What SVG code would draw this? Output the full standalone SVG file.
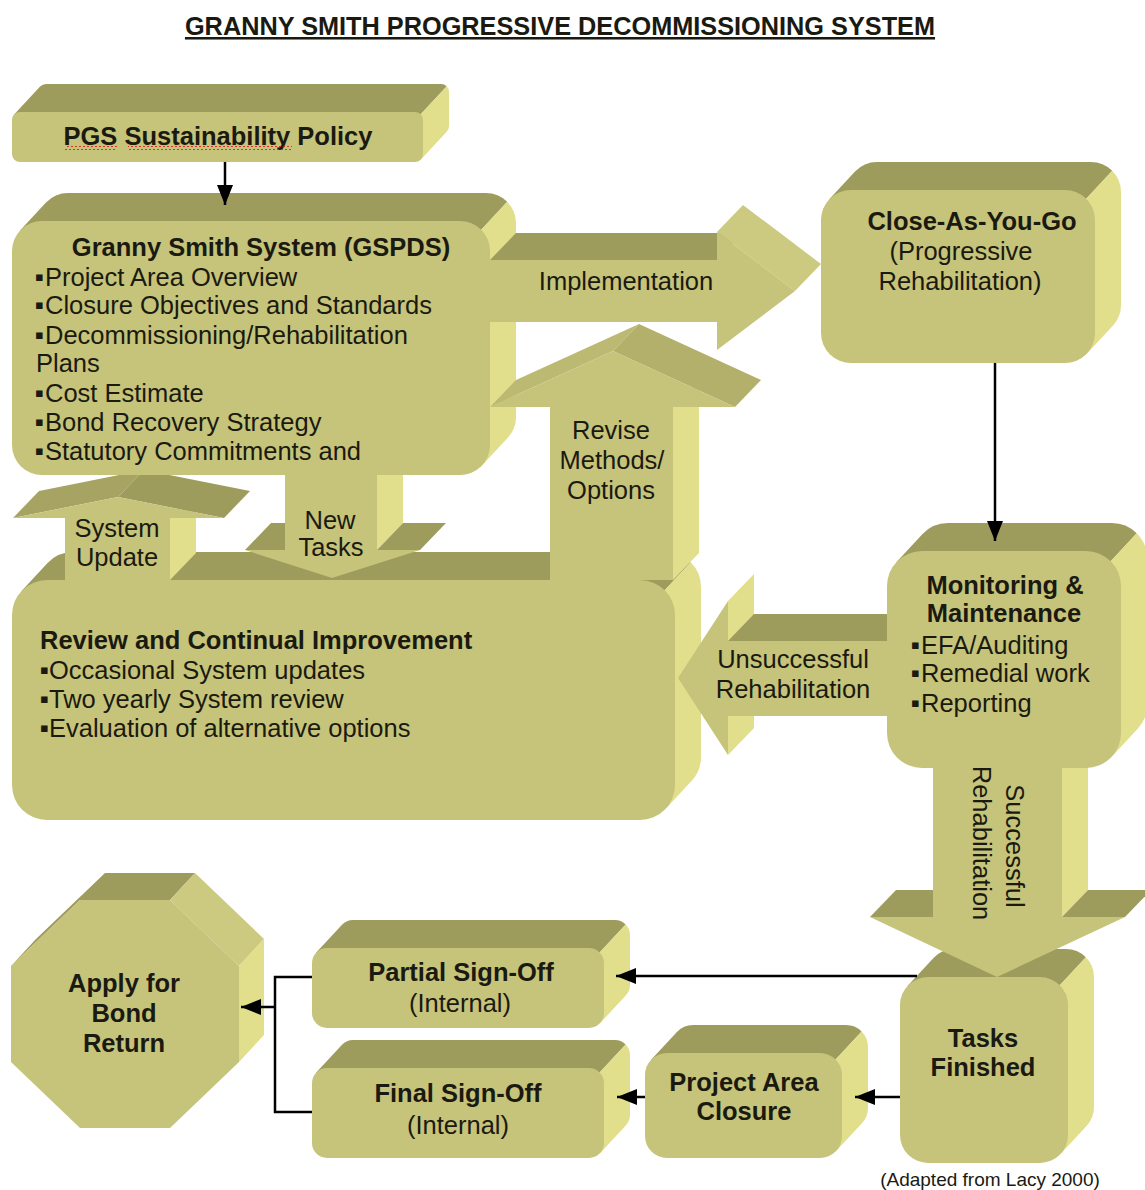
<svg xmlns="http://www.w3.org/2000/svg" width="1145" height="1190" viewBox="0 0 1145 1190">
<defs>
<style>
.f{fill:#c6c37a}
.t{fill:#9e9c5d}
.s{fill:#e1df8b}
.m{fill:#ccc980}
.sl{fill:#bcb972}
.sr{fill:#b3b06b}
text{font-family:"Liberation Sans",Arial,sans-serif;font-size:25.5px;fill:#1a1a10}
.b{font-weight:bold}
.c{text-anchor:middle}
.bl{font-family:"DejaVu Sans",sans-serif;font-size:13px}
.conn line,.conn polyline{stroke:#000;stroke-width:2.5;fill:none}
</style>
<marker id="ah" viewBox="0 0 20 16" refX="20" refY="8" markerWidth="20" markerHeight="16" markerUnits="userSpaceOnUse" orient="auto">
<path d="M0,0 L20,8 L0,16 z" fill="#000"/>
</marker>
<pattern id="sq" width="4" height="4" patternUnits="userSpaceOnUse">
<path d="M0,3 L2,1 L4,3" stroke="#e02020" stroke-width="0.9" fill="none"/>
</pattern>
</defs>
<rect width="1145" height="1190" fill="#fff"/>

<text id="title" class="b c" x="560" y="35" text-decoration="underline" style="font-size:25.3px">GRANNY SMITH PROGRESSIVE DECOMMISSIONING SYSTEM</text>

<g id="pgs">
<path class="t" d="M14.1,114.6 L40.1,86.6 A8,8 0 0 1 46,84 L441,84 A8,8 0 0 1 446.7,86.3 L420.7,114.3 Z"/>
<path class="s" d="M420.7,114.3 L446.7,86.3 A8,8 0 0 1 449,92 L449,126 A8,8 0 0 1 446.9,131.4 L420.9,159.4 Z"/>
<rect class="f" x="12" y="112" width="411" height="50" rx="8"/>
<text class="b c" x="218" y="145">PGS Sustainability Policy</text>
<rect x="65" y="146" width="52" height="4" fill="url(#sq)"/>
<rect x="128" y="146" width="164" height="4" fill="url(#sq)"/>
</g>

<g id="review">
<path class="t" d="M21.3,591.2 L47.3,563.2 A35,35 0 0 1 73,552 L666,552 A35,35 0 0 1 690.7,562.3 L664.7,590.3 Z"/>
<path class="s" d="M664.7,590.3 L690.7,562.3 A35,35 0 0 1 701,587 L701,757 A35,35 0 0 1 691.7,780.8 L665.7,808.8 Z"/>
<rect class="f" x="12" y="580" width="663" height="240" rx="35"/>
<text class="b" x="40" y="649">Review and Continual Improvement</text>
<text x="40" y="679"><tspan class="bl" dy="-5">▪</tspan><tspan x="49" dy="5">Occasional System updates</tspan></text>
<text x="40" y="708"><tspan class="bl" dy="-5">▪</tspan><tspan x="49" dy="5">Two yearly System review</tspan></text>
<text x="40" y="737"><tspan class="bl" dy="-5">▪</tspan><tspan x="49" dy="5">Evaluation of alternative options</tspan></text>
</g>

<g id="system-update">
<polygon class="s" points="170,518 196,491 196,553 170,580"/>
<polygon fill="#a6a363" points="13,518 39,491 144,470 118,497"/>
<polygon class="t" points="118,497 144,470 250,491 224,518"/>
<polygon class="f" points="65,580 65,518 13,518 118,497 224,518 170,518 170,580"/>
<text class="c" x="117" y="537">System</text>
<text class="c" x="117" y="566">Update</text>
</g>

<g id="new-tasks">
<polygon class="s" points="377,470 403,443 403,523 377,550"/>
<polygon class="t" points="245,550 271,523 311,523 285,550"/>
<polygon class="t" points="377,550 403,523 446,523 420,550"/>
<polygon class="f" points="285,470 377,470 377,550 420,550 332,578 245,550 285,550"/>
<text class="c" x="330" y="529">New</text>
<text class="c" x="331" y="556">Tasks</text>
</g>

<g id="gspds">
<path class="t" d="M20,230.6 L46,202.6 A30,30 0 0 1 68,193 L486,193 A30,30 0 0 1 507.2,201.8 L481.2,229.8 Z"/>
<path class="s" d="M481.2,229.8 L507.2,201.8 A30,30 0 0 1 516,223 L516,417 A30,30 0 0 1 508,437.4 L482,465.4 Z"/>
<rect class="f" x="12" y="221" width="478" height="254" rx="30"/>
<text class="b c" x="261" y="256">Granny Smith System (GSPDS)</text>
<text x="35" y="286"><tspan class="bl" dy="-5">▪</tspan><tspan x="45" dy="5">Project Area Overview</tspan></text>
<text x="35" y="314"><tspan class="bl" dy="-5">▪</tspan><tspan x="45" dy="5">Closure Objectives and Standards</tspan></text>
<text x="35" y="344"><tspan class="bl" dy="-5">▪</tspan><tspan x="45" dy="5">Decommissioning/Rehabilitation</tspan></text>
<text x="36" y="372">Plans</text>
<text x="35" y="402"><tspan class="bl" dy="-5">▪</tspan><tspan x="45" dy="5">Cost Estimate</tspan></text>
<text x="35" y="431"><tspan class="bl" dy="-5">▪</tspan><tspan x="45" dy="5">Bond Recovery Strategy</tspan></text>
<text x="35" y="460"><tspan class="bl" dy="-5">▪</tspan><tspan x="45" dy="5">Statutory Commitments and</tspan></text>
</g>

<g id="revise">
<polygon class="s" points="673,407 699,380 699,553 673,580"/>
<polygon class="sl" points="490,407 516,380 639,324 613,351"/>
<polygon class="sr" points="613,351 639,324 761,380 735,407"/>
<polygon class="f" points="550,580 550,407 490,407 613,351 735,407 673,407 673,580"/>
<text class="c" x="611" y="439">Revise</text>
<text class="c" x="612" y="469">Methods/</text>
<text class="c" x="611" y="499">Options</text>
</g>

<g id="implementation">
<polygon class="t" points="490,260 516,233 743,233 717,260"/>
<polygon class="m" points="717,232 743,205 821,264 795,291"/>
<polygon class="f" points="490,260 717,260 717,232 795,291 717,350 717,322 490,322"/>
<text class="c" x="626" y="290">Implementation</text>
</g>

<g id="close">
<path class="t" d="M829,199.6 L855,171.6 A30,30 0 0 1 877,162 L1091,162 A30,30 0 0 1 1112.2,170.8 L1086.2,198.8 Z"/>
<path class="s" d="M1086.2,198.8 L1112.2,170.8 A30,30 0 0 1 1121,192 L1121,305 A30,30 0 0 1 1113,325.4 L1087,353.4 Z"/>
<rect class="f" x="821" y="190" width="274" height="173" rx="30"/>
<text class="b c" x="972" y="230">Close-As-You-Go</text>
<text class="c" x="961" y="260">(Progressive</text>
<text class="c" x="960" y="290">Rehabilitation)</text>
</g>

<g id="unsuccessful">
<polygon class="s" points="728,601 754,574 754,728 728,755"/>
<polygon class="t" points="728,641 754,614 913,614 887,641"/>
<polygon class="f" points="887,641 728,641 728,601 678,678 728,755 728,716 887,716"/>
<text class="c" x="793" y="668">Unsuccessful</text>
<text class="c" x="793" y="698">Rehabilitation</text>
</g>

<g id="tasks">
<path class="t" d="M907.5,986 L933.5,958 A28,28 0 0 1 954,949 L1066,949 A28,28 0 0 1 1085.8,957.2 L1059.8,985.2 Z"/>
<path class="s" d="M1059.8,985.2 L1085.8,957.2 A28,28 0 0 1 1094,977 L1094,1107 A28,28 0 0 1 1086.5,1126 L1060.5,1154 Z"/>
<rect class="f" x="900" y="977" width="168" height="186" rx="28"/>
<text class="b c" x="983" y="1047">Tasks</text>
<text class="b c" x="983" y="1076">Finished</text>
</g>

<g id="successful">
<polygon class="s" points="1062,740 1088,713 1088,890 1062,917"/>
<polygon class="t" points="870,917 896,890 959,890 933,917"/>
<polygon class="t" points="1062,917 1088,890 1151,890 1125,917"/>
<polygon class="f" points="933,740 1062,740 1062,917 1125,917 997,977 870,917 933,917"/>
<text transform="translate(1006,846) rotate(90)" class="c">Successful</text>
<text transform="translate(973,843) rotate(90)" class="c">Rehabilitation</text>
</g>

<g id="monitoring">
<path class="t" d="M896.3,562.2 L922.3,534.2 A35,35 0 0 1 948,523 L1112,523 A35,35 0 0 1 1136.7,533.3 L1110.7,561.3 Z"/>
<path class="s" d="M1110.7,561.3 L1136.7,533.3 A35,35 0 0 1 1147,558 L1147,705 A35,35 0 0 1 1137.7,728.8 L1111.7,756.8 Z"/>
<rect class="f" x="887" y="551" width="234" height="217" rx="35"/>
<text class="b c" x="1005" y="594">Monitoring &amp;</text>
<text class="b c" x="1004" y="622">Maintenance</text>
<text x="911" y="654"><tspan class="bl" dy="-5">▪</tspan><tspan x="921" dy="5">EFA/Auditing</tspan></text>
<text x="911" y="682"><tspan class="bl" dy="-5">▪</tspan><tspan x="921" dy="5">Remedial work</tspan></text>
<text x="911" y="712"><tspan class="bl" dy="-5">▪</tspan><tspan x="921" dy="5">Reporting</tspan></text>
</g>

<g id="project-closure">
<path class="t" d="M650.9,1060 L676.9,1032 A22,22 0 0 1 693,1025 L846,1025 A22,22 0 0 1 861.6,1031.4 L835.6,1059.4 Z"/>
<path class="s" d="M835.6,1059.4 L861.6,1031.4 A22,22 0 0 1 868,1047 L868,1108 A22,22 0 0 1 862.1,1123 L836.1,1151 Z"/>
<rect class="f" x="645" y="1053" width="197" height="105" rx="22"/>
<text class="b c" x="744" y="1091">Project Area</text>
<text class="b c" x="744" y="1120">Closure</text>
</g>

<g id="partial">
<path class="t" d="M316,952.8 L342,924.8 A15,15 0 0 1 353,920 L615,920 A15,15 0 0 1 625.6,924.4 L599.6,952.4 Z"/>
<path class="s" d="M599.6,952.4 L625.6,924.4 A15,15 0 0 1 630,935 L630,985 A15,15 0 0 1 626,995.2 L600,1023.2 Z"/>
<rect class="f" x="312" y="948" width="292" height="80" rx="15"/>
<text class="b c" x="461" y="981">Partial Sign-Off</text>
<text class="c" x="460" y="1012">(Internal)</text>
</g>

<g id="final">
<path class="t" d="M316,1072.8 L342,1044.8 A15,15 0 0 1 353,1040 L615,1040 A15,15 0 0 1 625.6,1044.4 L599.6,1072.4 Z"/>
<path class="s" d="M599.6,1072.4 L625.6,1044.4 A15,15 0 0 1 630,1055 L630,1115 A15,15 0 0 1 626,1125.2 L600,1153.2 Z"/>
<rect class="f" x="312" y="1068" width="292" height="90" rx="15"/>
<text class="b c" x="458" y="1102">Final Sign-Off</text>
<text class="c" x="458" y="1134">(Internal)</text>
</g>

<g id="bond">
<polygon class="t" points="11,966 36,939 105,873 195,873 170,900 80,900"/>
<polygon class="m" points="170,900 195,873 264,939 239,966"/>
<polygon class="s" points="239,966 264,939 264,1035 239,1062"/>
<polygon class="f" points="80,900 170,900 239,966 239,1062 170,1128 80,1128 11,1062 11,966"/>
<text class="b c" x="124" y="992">Apply for</text>
<text class="b c" x="124" y="1022">Bond</text>
<text class="b c" x="124" y="1052">Return</text>
</g>

<g class="conn" id="connectors">
<line x1="225" y1="162" x2="225" y2="205" marker-end="url(#ah)"/>
<line x1="995" y1="363" x2="995" y2="541" marker-end="url(#ah)"/>
<line x1="917" y1="976" x2="616" y2="976" marker-end="url(#ah)"/>
<line x1="900" y1="1097" x2="855" y2="1097" marker-end="url(#ah)"/>
<line x1="645" y1="1097" x2="617" y2="1097" marker-end="url(#ah)"/>
<polyline points="312,977 275,977 275,1112 312,1112"/>
<line x1="275" y1="1007" x2="241" y2="1007" marker-end="url(#ah)"/>
</g>

<text id="source" class="c" x="990" y="1186" style="font-size:19px">(Adapted from Lacy 2000)</text>
</svg>
